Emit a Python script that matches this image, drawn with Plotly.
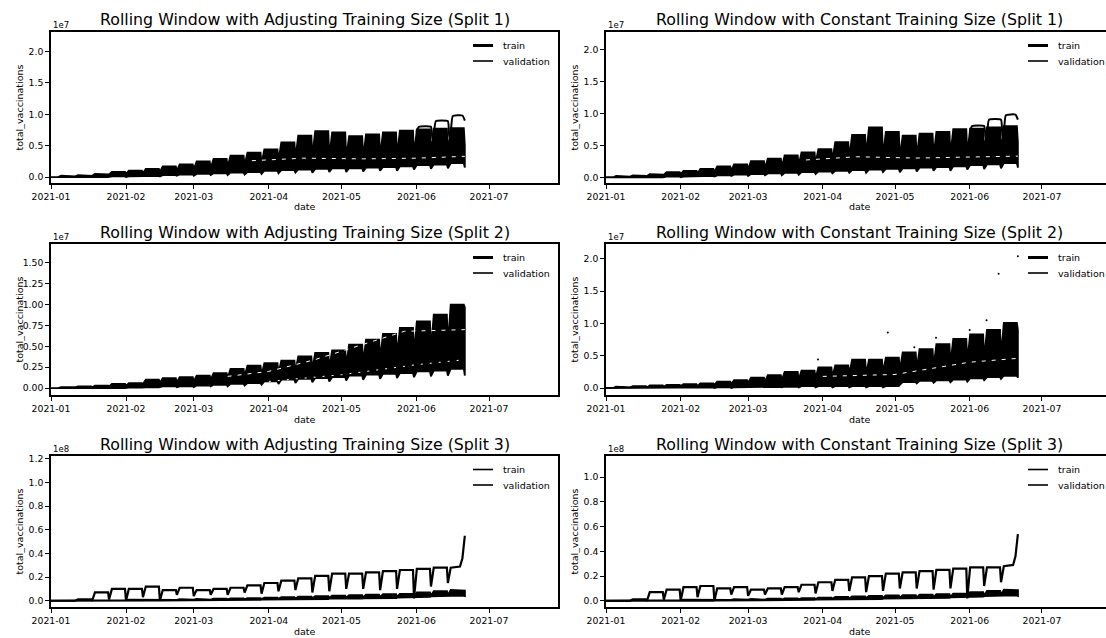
import pandas as pd
import plotly.graph_objects as go

# ---------------- data (values in units of the axis offset: 1e7 or 1e8) ----------------
START_DATE = "2021-01-01"
END_DATE = "2021-06-21"
WEEK_STARTS = ["2021-01-04", "2021-01-11", "2021-01-18", "2021-01-25", "2021-02-01", "2021-02-08",
               "2021-02-15", "2021-02-22", "2021-03-01", "2021-03-08", "2021-03-15", "2021-03-22",
               "2021-03-29", "2021-04-05", "2021-04-12", "2021-04-19", "2021-04-26", "2021-05-03",
               "2021-05-10", "2021-05-17", "2021-05-24", "2021-05-31", "2021-06-07", "2021-06-14"]

# Split 1 - adjusting training size (1e7)
A1_upper_peak = [0.02, 0.03, 0.05, 0.08, 0.10, 0.13, 0.17, 0.20, 0.25, 0.29, 0.34, 0.39,
                 0.44, 0.55, 0.66, 0.73, 0.71, 0.65, 0.68, 0.71, 0.74, 0.76, 0.77, 0.78]
A1_upper_dip = [0.00, 0.01, 0.02, 0.04, 0.05, 0.06, 0.08, 0.10, 0.12, 0.14, 0.16, 0.19,
                0.22, 0.26, 0.30, 0.33, 0.32, 0.30, 0.31, 0.33, 0.34, 0.35, 0.36, 0.38]
A1_lower = [0.00, 0.00, 0.00, 0.01, 0.01, 0.02, 0.03, 0.04, 0.05, 0.06, 0.07, 0.08,
            0.10, 0.11, 0.12, 0.13, 0.14, 0.14, 0.15, 0.16, 0.17, 0.19, 0.20, 0.22]
A1_lower_dip = [0.00, 0.00, 0.00, 0.00, 0.00, 0.01, 0.01, 0.02, 0.02, 0.03, 0.03, 0.04,
                0.05, 0.06, 0.07, 0.07, 0.08, 0.08, 0.09, 0.10, 0.10, 0.12, 0.13, 0.14]
A1_end = [0.15, 0.50]
A1_outer_dates = ["2021-06-01", "2021-06-02", "2021-06-07", "2021-06-07 14:00", "2021-06-08", "2021-06-09",
                  "2021-06-14", "2021-06-14 14:00", "2021-06-15", "2021-06-16", "2021-06-20", "2021-06-21"]
A1_outer_vals = [0.72, 0.80, 0.80, 0.62, 0.62, 0.89, 0.89, 0.64, 0.64, 0.97, 0.98, 0.90]
A1_gap_dates = ["2021-03-25", "2021-04-15", "2021-05-10", "2021-06-01", "2021-06-21"]
A1_gap_vals = [0.26, 0.30, 0.29, 0.30, 0.33]

# Split 1 - constant training size (1e7)
C1_upper_peak = [0.02, 0.03, 0.05, 0.08, 0.10, 0.13, 0.17, 0.20, 0.25, 0.29, 0.34, 0.39,
                 0.44, 0.55, 0.66, 0.78, 0.71, 0.65, 0.68, 0.71, 0.75, 0.76, 0.78, 0.80]
C1_upper_dip = A1_upper_dip
C1_lower = [0.00, 0.00, 0.00, 0.01, 0.01, 0.02, 0.03, 0.04, 0.05, 0.06, 0.07, 0.08,
            0.09, 0.10, 0.11, 0.12, 0.13, 0.14, 0.15, 0.16, 0.17, 0.19, 0.20, 0.22]
C1_lower_dip = A1_lower_dip
C1_end = [0.15, 0.55]
C1_outer_dates = A1_outer_dates
C1_outer_vals = [0.72, 0.80, 0.80, 0.62, 0.62, 0.90, 0.90, 0.64, 0.64, 0.97, 0.98, 0.90]
C1_gap_dates = A1_gap_dates
C1_gap_vals = [0.27, 0.32, 0.30, 0.31, 0.33]

# Split 2 - adjusting training size (1e7)
A2_upper_peak = [0.01, 0.02, 0.03, 0.05, 0.06, 0.10, 0.12, 0.13, 0.15, 0.18, 0.23, 0.27,
                 0.30, 0.33, 0.38, 0.42, 0.45, 0.52, 0.58, 0.65, 0.72, 0.80, 0.88, 1.00]
A2_upper_dip = [0.00, 0.01, 0.01, 0.02, 0.03, 0.05, 0.06, 0.07, 0.08, 0.10, 0.12, 0.14,
                0.16, 0.18, 0.20, 0.22, 0.24, 0.27, 0.30, 0.34, 0.38, 0.42, 0.46, 0.52]
A2_lower = [0.00, 0.00, 0.00, 0.00, 0.005, 0.01, 0.02, 0.02, 0.03, 0.04, 0.05, 0.06,
            0.08, 0.10, 0.11, 0.12, 0.13, 0.15, 0.16, 0.17, 0.18, 0.20, 0.21, 0.23]
A2_lower_dip = [0.00, 0.00, 0.00, 0.00, 0.00, 0.00, 0.01, 0.01, 0.01, 0.02, 0.02, 0.03,
                0.04, 0.05, 0.06, 0.07, 0.08, 0.09, 0.10, 0.11, 0.12, 0.13, 0.14, 0.15]
A2_end = [0.15, 0.97]
A2_gap_dates = ["2021-03-15", "2021-04-01", "2021-04-20", "2021-05-10", "2021-05-27", "2021-06-21"]
A2_gap_vals = [0.14, 0.20, 0.34, 0.52, 0.68, 0.70]
A2_gap2_dates = ["2021-04-01", "2021-05-01", "2021-06-01", "2021-06-21"]
A2_gap2_vals = [0.08, 0.16, 0.28, 0.34]

# Split 2 - constant training size (1e7)
C2_upper_peak = [0.02, 0.03, 0.04, 0.05, 0.06, 0.07, 0.10, 0.12, 0.16, 0.20, 0.25, 0.27,
                 0.32, 0.35, 0.44, 0.44, 0.47, 0.55, 0.60, 0.68, 0.76, 0.83, 0.90, 1.01]
C2_upper_dip = [0.00, 0.01, 0.01, 0.02, 0.03, 0.03, 0.05, 0.06, 0.08, 0.10, 0.12, 0.13,
                0.15, 0.17, 0.21, 0.21, 0.23, 0.27, 0.29, 0.33, 0.37, 0.41, 0.45, 0.50]
C2_lower = [0.00, 0.00, 0.00, 0.00, 0.005, 0.01, 0.01, 0.01, 0.02, 0.02, 0.02, 0.03,
            0.03, 0.03, 0.03, 0.03, 0.03, 0.09, 0.11, 0.12, 0.13, 0.15, 0.17, 0.19]
C2_lower_dip = [0.00, 0.00, 0.00, 0.00, 0.00, 0.00, 0.00, 0.00, 0.01, 0.01, 0.01, 0.01,
                0.01, 0.01, 0.01, 0.01, 0.01, 0.05, 0.07, 0.08, 0.09, 0.10, 0.12, 0.14]
C2_end = [0.16, 0.90]
C2_gap_dates = ["2021-04-01", "2021-05-01", "2021-06-01", "2021-06-21"]
C2_gap_vals = [0.18, 0.21, 0.40, 0.46]
C2_dot_dates = ["2021-03-30", "2021-04-28", "2021-05-09", "2021-05-18", "2021-06-01",
                "2021-06-08", "2021-06-13", "2021-06-21"]
C2_dot_vals = [0.44, 0.86, 0.63, 0.78, 0.90, 1.05, 1.77, 2.04]

# Split 3 - adjusting training size (1e8)
A3_main_peak = [0.000, 0.012, 0.07, 0.10, 0.10, 0.12, 0.09, 0.11, 0.09, 0.10, 0.11, 0.13,
                0.15, 0.17, 0.19, 0.21, 0.23, 0.23, 0.24, 0.25, 0.26, 0.27, 0.28, 0.28]
A3_main_dip = [0.00, 0.00, 0.00, 0.01, 0.00, 0.03, 0.00, 0.05, 0.04, 0.05, 0.05, 0.07,
               0.06, 0.08, 0.09, 0.07, 0.08, 0.10, 0.10, 0.09, 0.10, 0.02, 0.12, 0.15]
A3_tail_dates = ["2021-06-19", "2021-06-20", "2021-06-21"]
A3_tail_vals = [0.29, 0.36, 0.55]
A3_band_upper = [0.003, 0.004, 0.005, 0.006, 0.008, 0.009, 0.010, 0.012, 0.015, 0.017, 0.019, 0.021,
                 0.025, 0.030, 0.034, 0.038, 0.042, 0.046, 0.050, 0.054, 0.058, 0.070, 0.080, 0.090]
A3_band_upper_dip = [0.000, 0.001, 0.002, 0.003, 0.004, 0.004, 0.005, 0.006, 0.008, 0.009, 0.010, 0.011,
                     0.013, 0.016, 0.018, 0.020, 0.022, 0.024, 0.026, 0.028, 0.030, 0.036, 0.040, 0.045]
A3_band_lower = [0.000, 0.000, 0.000, 0.000, 0.000, 0.001, 0.002, 0.003, 0.005, 0.006, 0.007, 0.008,
                 0.010, 0.012, 0.013, 0.015, 0.018, 0.020, 0.022, 0.024, 0.028, 0.034, 0.038, 0.042]
A3_band_end = [0.040, 0.085]

# Split 3 - constant training size (1e8)
C3_main_peak = [0.000, 0.012, 0.07, 0.09, 0.11, 0.12, 0.10, 0.11, 0.09, 0.10, 0.11, 0.13,
                0.15, 0.17, 0.19, 0.20, 0.22, 0.23, 0.24, 0.25, 0.26, 0.27, 0.27, 0.28]
C3_main_dip = [0.00, 0.00, 0.00, 0.01, 0.00, 0.03, 0.00, 0.05, 0.04, 0.05, 0.05, 0.07,
               0.06, 0.08, 0.08, 0.07, 0.08, 0.10, 0.10, 0.09, 0.10, 0.02, 0.12, 0.15]
C3_tail_dates = ["2021-06-19", "2021-06-20", "2021-06-21"]
C3_tail_vals = [0.29, 0.36, 0.54]
C3_band_upper = A3_band_upper
C3_band_upper_dip = A3_band_upper_dip
C3_band_lower = A3_band_lower
C3_band_end = [0.040, 0.085]

TITLES = ["Rolling Window with Adjusting Training Size (Split 1)",
          "Rolling Window with Constant Training Size (Split 1)",
          "Rolling Window with Adjusting Training Size (Split 2)",
          "Rolling Window with Constant Training Size (Split 2)",
          "Rolling Window with Adjusting Training Size (Split 3)",
          "Rolling Window with Constant Training Size (Split 3)"]
OFFSETS = ["1e7", "1e7", "1e7", "1e7", "1e8", "1e8"]
SCALES = [1e7, 1e7, 1e7, 1e7, 1e8, 1e8]
Y_RANGES = [[-0.095, 2.31], [-0.09, 2.27], [-0.083, 1.726], [-0.108, 2.23], [-0.053, 1.225], [-0.05, 1.171]]
Y_TICKS = [[0.0, 0.5, 1.0, 1.5, 2.0], [0.0, 0.5, 1.0, 1.5, 2.0],
           [0.0, 0.25, 0.5, 0.75, 1.0, 1.25, 1.5], [0.0, 0.5, 1.0, 1.5, 2.0],
           [0.0, 0.2, 0.4, 0.6, 0.8, 1.0, 1.2], [0.0, 0.2, 0.4, 0.6, 0.8, 1.0]]
Y_TICK_TEXT = [["0.0", "0.5", "1.0", "1.5", "2.0"], ["0.0", "0.5", "1.0", "1.5", "2.0"],
               ["0.00", "0.25", "0.50", "0.75", "1.00", "1.25", "1.50"], ["0.0", "0.5", "1.0", "1.5", "2.0"],
               ["0.0", "0.2", "0.4", "0.6", "0.8", "1.0", "1.2"], ["0.0", "0.2", "0.4", "0.6", "0.8", "1.0"]]
X_RANGE_LEFT = ["2021-01-01", "2021-07-29 12:00"]
X_RANGE_RIGHT = ["2021-01-01", "2021-07-27 14:00"]

# ---------------- layout geometry (pixels) ----------------
W, H = 1106, 638
COLS = [(51, 558), (606, 1113)]
ROWS = [(32, 183), (244, 395), (456, 607)]
FONT = "DejaVu Sans"


def px(x):
    return x / W


def py(y):
    return 1 - y / H


def week_path(peaks, dips, tail_dates=None, tail_vals=None):
    xs = [pd.Timestamp(START_DATE)]
    ys = [dips[0]]
    cut = pd.Timestamp(tail_dates[0]) if tail_dates else None
    for s, p, d in zip(WEEK_STARTS, peaks, dips):
        t = pd.Timestamp(s)
        for tt, v in [(t, d), (t + pd.Timedelta(hours=28), p), (t + pd.Timedelta(hours=158), p)]:
            if cut is None or tt < cut:
                xs.append(tt)
                ys.append(v)
    if tail_dates:
        xs += [pd.Timestamp(d) for d in tail_dates]
        ys += list(tail_vals)
    return xs, ys


def band(upper_peak, upper_dip, lower, lower_dip, end):
    ux, uy = week_path(upper_peak, upper_dip, [END_DATE], [end[1]])
    lx, ly = week_path(lower, lower_dip, [END_DATE], [end[0]])
    return ux + lx[::-1], uy + ly[::-1]


fig = go.Figure()


def add(trace, i):
    sfx = "" if i == 0 else str(i + 1)
    trace.update(xaxis="x" + sfx, yaxis="y" + sfx, showlegend=False, hoverinfo="skip")
    fig.add_trace(trace)


def scaled(vals, i):
    return [v * SCALES[i] for v in vals]


BAND_SETS = [
    (A1_upper_peak, A1_upper_dip, A1_lower, A1_lower_dip, A1_end),
    (C1_upper_peak, C1_upper_dip, C1_lower, C1_lower_dip, C1_end),
    (A2_upper_peak, A2_upper_dip, A2_lower, A2_lower_dip, A2_end),
    (C2_upper_peak, C2_upper_dip, C2_lower, C2_lower_dip, C2_end),
]
for i, (up, ud, lo, ld, en) in enumerate(BAND_SETS):
    bx, by = band(up, ud, lo, ld, en)
    add(go.Scatter(x=bx, y=scaled(by, i), mode="lines", fill="toself", fillcolor="black",
                   line=dict(color="black", width=1.8)), i)

# white gaps inside the dense bands
for i, (gd, gv) in enumerate([(A1_gap_dates, A1_gap_vals), (C1_gap_dates, C1_gap_vals),
                              (A2_gap_dates, A2_gap_vals), (C2_gap_dates, C2_gap_vals)]):
    add(go.Scatter(x=gd, y=scaled(gv, i), mode="lines",
                   line=dict(color="white", width=1, dash="4px,6px")), i)
add(go.Scatter(x=A2_gap2_dates, y=scaled(A2_gap2_vals, 2), mode="lines",
               line=dict(color="white", width=1, dash="2px,7px")), 2)

# outer train lines in June (split 1)
add(go.Scatter(x=A1_outer_dates, y=scaled(A1_outer_vals, 0), mode="lines",
               line=dict(color="black", width=2, shape="spline", smoothing=0.4)), 0)
add(go.Scatter(x=C1_outer_dates, y=scaled(C1_outer_vals, 1), mode="lines",
               line=dict(color="black", width=2, shape="spline", smoothing=0.4)), 1)

# sparse points (split 2 constant)
add(go.Scatter(x=C2_dot_dates, y=scaled(C2_dot_vals, 3), mode="markers",
               marker=dict(color="black", size=2)), 3)

# split 3
for i, (mp, md, td, tv, bu, bud, bl, be) in [
    (4, (A3_main_peak, A3_main_dip, A3_tail_dates, A3_tail_vals, A3_band_upper, A3_band_upper_dip,
         A3_band_lower, A3_band_end)),
    (5, (C3_main_peak, C3_main_dip, C3_tail_dates, C3_tail_vals, C3_band_upper, C3_band_upper_dip,
         C3_band_lower, C3_band_end)),
]:
    bx, by = band(bu, bud, bl, bl, be)
    add(go.Scatter(x=bx, y=scaled(by, i), mode="lines", fill="toself", fillcolor="black",
                   line=dict(color="black", width=2)), i)
    mx, my = week_path(mp, md, td, tv)
    add(go.Scatter(x=mx, y=scaled(my, i), mode="lines", line=dict(color="black", width=2.2)), i)

# ---------------- axes, titles, labels, legends ----------------
layout = dict(template="none", width=W, height=H, margin=dict(l=0, r=0, t=0, b=0, pad=0),
              paper_bgcolor="white", plot_bgcolor="white",
              font=dict(family=FONT, color="black", size=9), showlegend=False)
annotations = []
shapes = []
for i in range(6):
    r, c = divmod(i, 2)
    x0, x1 = COLS[c]
    y0, y1 = ROWS[r]
    sfx = "" if i == 0 else str(i + 1)
    dom_x = [px(x0), min(1.0, px(x1))]
    layout["xaxis" + sfx] = dict(
        domain=dom_x, anchor="y" + sfx, type="date", automargin=False,
        range=X_RANGE_LEFT if c == 0 else X_RANGE_RIGHT,
        tickformat="%Y-%m", dtick="M1", tick0="2021-01-01",
        showgrid=False, zeroline=False, showline=True, linecolor="black", linewidth=1.5,
        mirror=True, ticks="outside", ticklen=4, tickwidth=1.2, tickcolor="black",
        tickfont=dict(size=9.3, family=FONT, color="black"))
    layout["yaxis" + sfx] = dict(
        domain=[py(y1), py(y0)], anchor="x" + sfx, automargin=False,
        range=[v * SCALES[i] for v in Y_RANGES[i]],
        tickvals=[v * SCALES[i] for v in Y_TICKS[i]], ticktext=Y_TICK_TEXT[i],
        showgrid=False, zeroline=False, showline=True, linecolor="black", linewidth=1.5,
        mirror=(c == 0), ticks="outside", ticklen=4, tickwidth=1.2, tickcolor="black",
        tickfont=dict(size=9.3, family=FONT, color="black"))
    xc = (x0 + x1) / 2
    annotations.append(dict(text=TITLES[i], x=px(xc), y=py(y0 - 12), xref="paper", yref="paper",
                            showarrow=False, xanchor="center", yanchor="middle",
                            font=dict(size=15.8, family=FONT, color="black")))
    annotations.append(dict(text=OFFSETS[i], x=px(x0 + 1), y=py(y0 - 1), xref="paper", yref="paper",
                            showarrow=False, xanchor="left", yanchor="bottom", borderpad=0,
                            font=dict(size=8.5, family=FONT, color="black")))
    annotations.append(dict(text="total_vaccinations", x=px(x0 - 32), y=py((y0 + y1) / 2),
                            xref="paper", yref="paper", showarrow=False, textangle=-90,
                            xanchor="center", yanchor="middle",
                            font=dict(size=9.5, family=FONT, color="black")))
    annotations.append(dict(text="date", x=px((x0 + x1) / 2), y=py(y1 + 24),
                            xref="paper", yref="paper", showarrow=False,
                            xanchor="center", yanchor="middle",
                            font=dict(size=9.5, family=FONT, color="black")))
    # legend
    train_w = 3 if r < 2 else 1.6
    for k, (name, lw) in enumerate([("train", train_w), ("validation", 1.6)]):
        yy = y0 + 13.5 + 15.5 * k
        shapes.append(dict(type="line", xref="paper", yref="paper",
                           x0=px(x1 - 85), x1=px(x1 - 65), y0=py(yy), y1=py(yy),
                           line=dict(color="black", width=lw)))
        annotations.append(dict(text=name, x=px(x1 - 57), y=py(yy), xref="paper", yref="paper",
                                showarrow=False, xanchor="left", yanchor="middle",
                                font=dict(size=9.5, family=FONT, color="black")))

layout["annotations"] = annotations
layout["shapes"] = shapes
fig.update_layout(**layout)
fig.write_html("out.html")
